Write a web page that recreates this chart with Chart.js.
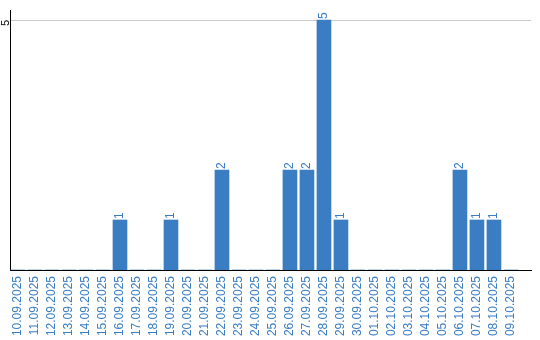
<!DOCTYPE html>
<html><head><meta charset="utf-8">
<script src="https://cdn.jsdelivr.net/npm/chart.js@4"></script>
<style>html,body{margin:0;padding:0;background:#fff}</style>
</head><body>
<canvas id="c" width="540" height="340"></canvas>
<script>
const dates = ['10.09.2025','11.09.2025','12.09.2025','13.09.2025','14.09.2025','15.09.2025','16.09.2025','17.09.2025','18.09.2025','19.09.2025','20.09.2025','21.09.2025','22.09.2025','23.09.2025','24.09.2025','25.09.2025','26.09.2025','27.09.2025','28.09.2025','29.09.2025','30.09.2025','01.10.2025','02.10.2025','03.10.2025','04.10.2025','05.10.2025','06.10.2025','07.10.2025','08.10.2025','09.10.2025'];
const counts = [0,0,0,0,0,0,1,0,0,1,0,0,2,0,0,0,2,2,5,1,0,0,0,0,0,0,2,1,1,0];
const yTicks = [5];

const BLUE = '#3a7dc2';
const FONT = "'Liberation Sans', Arial, sans-serif";

const valueLabels = {
  id: 'valueLabels',
  afterDatasetsDraw(chart) {
    const ctx = chart.ctx;
    const meta = chart.getDatasetMeta(0);
    ctx.save();
    ctx.fillStyle = BLUE;
    ctx.font = '12px ' + FONT;
    ctx.textAlign = 'left';
    ctx.textBaseline = 'middle';
    meta.data.forEach((bar, i) => {
      const v = counts[i];
      if (!v) return;
      ctx.save();
      ctx.translate(bar.x, bar.y - 1);
      ctx.rotate(-Math.PI / 2);
      ctx.fillText(String(v), 0, 0);
      ctx.restore();
    });
    ctx.restore();
  }
};

new Chart(document.getElementById('c'), {
  type: 'bar',
  data: {
    datasets: [{
      data: dates.map((d, i) => ({ x: i, y: counts[i] })),
      backgroundColor: BLUE,
      barThickness: 14
    }]
  },
  plugins: [valueLabels],
  options: {
    responsive: false,
    animation: false,
    layout: { padding: { top: 10, right: 9, left: 0, bottom: 0 } },
    plugins: { legend: { display: false }, tooltip: { enabled: false } },
    scales: {
      x: {
        type: 'linear',
        bounds: 'data',
        offset: false,
        min: -0.47,
        max: 30.18,
        afterBuildTicks(s) { s.ticks = dates.map((d, i) => ({ value: i })); },
        afterFit(s) { s.height = 70; s.paddingLeft = 0; s.paddingRight = 0; },
        grid: { display: false, drawTicks: false, offset: false },
        border: { display: true, color: '#000', width: 1 },
        ticks: {
          autoSkip: false,
          minRotation: 90,
          maxRotation: 90,
          padding: 6,
          color: BLUE,
          font: { family: FONT, size: 12 },
          callback: v => dates[v] !== undefined ? dates[v] : null
        }
      },
      y: {
        min: 0,
        max: 5.2,
        bounds: 'data',
        afterFit(s) { s.width = 10; s.paddingTop = 0; s.paddingBottom = 0; },
        grid: { color: '#cccccc', drawTicks: false },
        border: { display: true, color: '#000', width: 1 },
        ticks: {
          stepSize: 5,
          includeBounds: false,
          minRotation: 90,
          maxRotation: 90,
          padding: 4,
          color: '#000',
          font: { family: FONT, size: 11 },
          callback: v => yTicks.includes(v) ? String(v) : null
        }
      }
    }
  }
});
</script>
</body></html>
